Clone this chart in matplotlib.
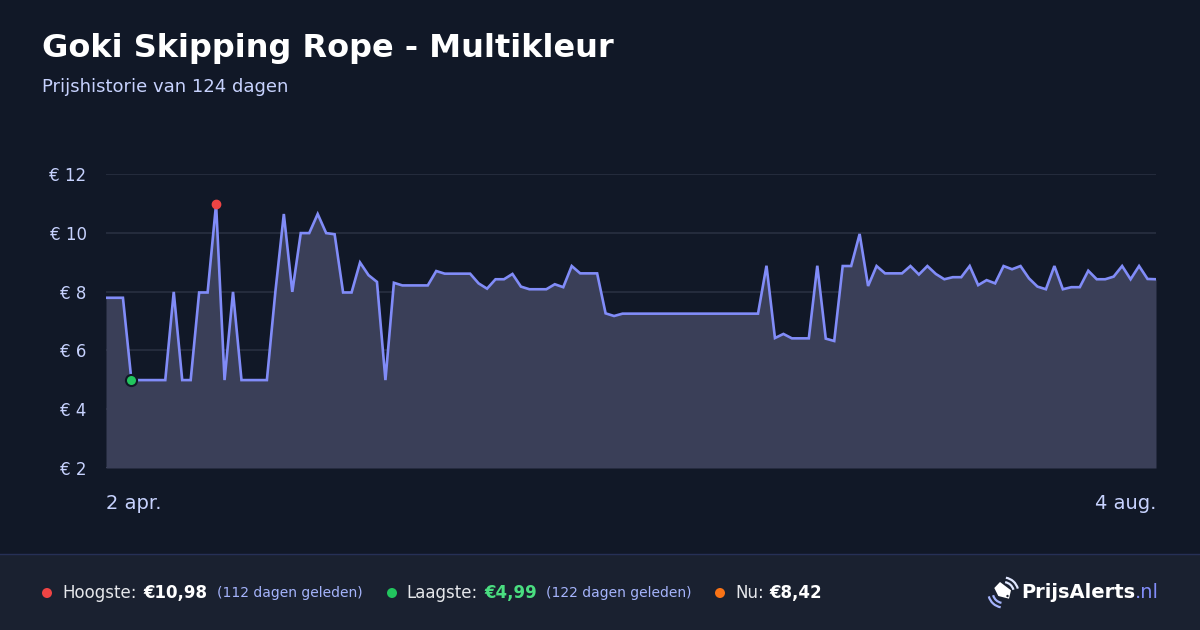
import matplotlib
matplotlib.use("Agg")
import matplotlib.pyplot as plt
from matplotlib.patches import Rectangle, Polygon, Arc, Circle
from matplotlib.lines import Line2D

# ---- data ----
prices = [
    7.79, 7.79, 7.79, 4.99, 4.99, 4.99, 4.99, 4.99, 7.99, 4.99,
    4.99, 7.97, 7.97, 10.98, 4.99, 7.99, 4.99, 4.99, 4.99, 4.99,
    7.99, 10.64, 7.99, 9.99, 9.99, 10.64, 9.99, 9.95, 7.97, 7.97,
    8.99, 8.56, 8.33, 4.99, 8.30, 8.21, 8.21, 8.21, 8.21, 8.70,
    8.61, 8.61, 8.61, 8.61, 8.28, 8.10, 8.42, 8.42, 8.60, 8.17,
    8.08, 8.08, 8.08, 8.25, 8.15, 8.87, 8.62, 8.62, 8.62, 7.26,
    7.17, 7.25, 7.25, 7.25, 7.25, 7.25, 7.25, 7.25, 7.25, 7.25,
    7.25, 7.25, 7.25, 7.25, 7.25, 7.25, 7.25, 7.25, 8.88, 6.42,
    6.56, 6.41, 6.41, 6.41, 8.88, 6.40, 6.32, 8.87, 8.87, 9.96,
    8.19, 8.87, 8.62, 8.62, 8.62, 8.87, 8.58, 8.87, 8.60, 8.42,
    8.49, 8.49, 8.87, 8.22, 8.39, 8.28, 8.87, 8.76, 8.87, 8.45,
    8.17, 8.08, 8.87, 8.08, 8.15, 8.15, 8.71, 8.42, 8.42, 8.51,
    8.87, 8.42, 8.87, 8.43, 8.42,
]
days = list(range(len(prices)))
y_ticks = [2, 4, 6, 8, 10, 12]
y_tick_labels = ["€ 2", "€ 4", "€ 6", "€ 8", "€ 10", "€ 12"]
start_label = "2 apr."
end_label = "4 aug."
title = "Goki Skipping Rope - Multikleur"
subtitle = "Prijshistorie van 124 dagen"
high_idx, low_idx = 13, 3
high_text, low_text, now_text = "€10,98", "€4,99", "€8,42"
high_ago, low_ago = "(112 dagen geleden)", "(122 dagen geleden)"

BG = "#111827"
FOOT = "#1a2130"
LINE = "#818cf8"
FILL = "#3a3f58"
GRID = "#283041"
TXT = "#c7d2fe"

W, H = 1200, 630
fig = plt.figure(figsize=(12, 6.3), dpi=100, facecolor=BG)

def fx(px):
    return px / W

def fy(py):
    return 1 - py / H

ax = fig.add_axes([fx(106), fy(468), fx(1156) - fx(106), fy(174) - fy(468)])
ax.set_facecolor(BG)
ax.set_xlim(0, len(prices) - 1)
ax.set_ylim(2, 12)
for s in ax.spines.values():
    s.set_visible(False)
ax.set_yticks(y_ticks)
ax.set_yticklabels(y_tick_labels)
ax.set_xticks([])
ax.tick_params(axis="y", length=0, pad=14, labelsize=12, labelcolor=TXT)
for yv in y_ticks:
    ax.axhline(yv, color=GRID if yv != 2 else "#4a5066", lw=1.2, zorder=1)

ax.fill_between(days, prices, 2, color=FILL, zorder=2, lw=0)
ax.plot(days, prices, color=LINE, lw=1.9, zorder=3, solid_joinstyle="miter")
ax.plot([high_idx], [prices[high_idx]], "o", ms=6, color="#ef4444", zorder=5,
        clip_on=False)
ax.plot([low_idx], [prices[low_idx]], "o", ms=8, color="#22c55e", mec=BG,
        mew=1.5, zorder=5, clip_on=False)

ax.text(0, -0.12, start_label, transform=ax.transAxes, ha="left", va="center",
        fontsize=14, color=TXT)
ax.text(1, -0.12, end_label, transform=ax.transAxes, ha="right", va="center",
        fontsize=14, color=TXT)

# Title
fig.text(fx(42), fy(48), title, fontsize=23, fontweight="bold", color="white",
         ha="left", va="center")
fig.text(fx(42), fy(87), subtitle, fontsize=13, color=TXT, ha="left",
         va="center")

# Footer
fig.patches.append(Rectangle((0, 0), 1, fy(554), transform=fig.transFigure,
                             facecolor=FOOT, edgecolor="none", zorder=0))
fig.lines.append(Line2D([0, 1], [fy(554), fy(554)], transform=fig.transFigure,
                        color="#263056", lw=1))
yy = fy(593)
fig.patches.append(Circle((47, 630 - 593), 5, transform=None,
                          facecolor="#ef4444", edgecolor="none"))
fig.text(fx(62), yy, "Hoogste:", fontsize=12, color="#e5e7eb", va="center")
fig.text(fx(143), yy, high_text, fontsize=12, fontweight="bold", color="white",
         va="center")
fig.text(fx(217), yy, high_ago, fontsize=10, color="#a5b4fc", va="center")
fig.patches.append(Circle((392, 630 - 593), 5, transform=None,
                          facecolor="#22c55e", edgecolor="none"))
fig.text(fx(406), yy, "Laagste:", fontsize=12, color="#e5e7eb", va="center")
fig.text(fx(484), yy, low_text, fontsize=12, fontweight="bold", color="#4ade80",
         va="center")
fig.text(fx(546), yy, low_ago, fontsize=10, color="#a5b4fc", va="center")
fig.patches.append(Circle((720, 630 - 593), 5, transform=None,
                          facecolor="#f97316", edgecolor="none"))
fig.text(fx(735), yy, "Nu:", fontsize=12, color="#e5e7eb", va="center")
fig.text(fx(769), yy, now_text, fontsize=12, fontweight="bold", color="white",
         va="center")

# Logo
fig.text(fx(1021), yy, "PrijsAlerts", fontsize=14, fontweight="bold",
         color="white", va="center")
fig.text(fx(1135), yy, ".nl", fontsize=14, color=LINE, va="center")
tag_pts = [(994.3, 588), (1000, 582), (1011, 590.3), (1009, 598.7),
           (998.3, 596)]
fig.patches.append(Polygon([(x, 630 - y) for x, y in tag_pts], closed=True,
                           transform=None, facecolor="white",
                           edgecolor="none"))
fig.patches.append(Circle((1007.5, 630 - 596), 1.2, transform=None,
                          facecolor=FOOT, edgecolor="none"))
cx, cy = 1003.3, 630 - 592.5
for r in (10.5, 15):
    fig.patches.append(Arc((cx, cy), 2 * r, 2 * r, theta1=15, theta2=80,
                           transform=None, color="#e0e7ff", lw=1.6))
    fig.patches.append(Arc((cx, cy), 2 * r, 2 * r, theta1=195, theta2=260,
                           transform=None, color="#a5b4fc", lw=1.6))

fig.savefig("out.png", dpi=100, facecolor=BG)
